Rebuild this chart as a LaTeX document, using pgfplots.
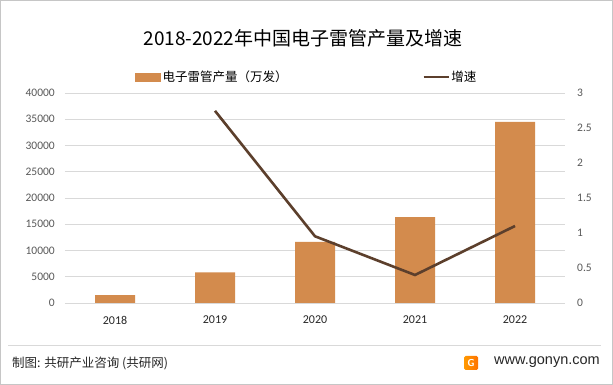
\documentclass[border=0pt]{standalone}
\usepackage{pgfplots}
\pgfplotsset{compat=1.18}
\usepackage{fontspec}
\setmainfont{Carlito}
\newfontfamily\cjk{Noto Sans CJK SC}
\newfontfamily\sans{Liberation Sans}
\definecolor{barc}{HTML}{D38B4D}
\definecolor{linec}{HTML}{5C3F2C}
\definecolor{gridc}{HTML}{D9D9D9}
\definecolor{tickc}{HTML}{595959}
\begin{document}
\begin{tikzpicture}[x=1pt,y=1pt]
\useasboundingbox (0,0) rectangle (613,385);
\fill[white] (0,0) rectangle (613,385);
\draw[gray!45, line width=0.8pt] (0.5,0.5) rectangle (612.5,384.5);
% title
\node[font=\cjk\fontsize{19}{22}\selectfont, text=black] at (303,347) {2018-2022年中国电子雷管产量及增速};
\begin{axis}[
  at={(65pt,82pt)}, anchor=south west,
  scale only axis, width=500pt, height=210pt,
  xmin=-0.5, xmax=4.5, ymin=0, ymax=40000,
  xtick={0,1,2,3,4}, xticklabels={2018,2019,2020,2021,2022},
  ytick={0,5000,...,40000},
  scaled y ticks=false,
  /pgf/number format/1000 sep={},
  /pgf/number format/assume math mode=true,
  axis line style={draw=none},
  major tick length=0pt,
  ymajorgrids, grid style={gridc, line width=0.8pt},
  yticklabel style={font=\fontsize{11.5}{13}\selectfont, text=tickc, inner sep=0pt, xshift=-10pt},
  xticklabel style={font=\fontsize{12}{13}\selectfont, text=black!85, inner sep=0pt, yshift=-13pt},
  legend style={at={(0.14,1.076)}, anchor=west, draw=none, fill=none, inner sep=0pt,
     font=\cjk\fontsize{12.5}{14}\selectfont, nodes={inner sep=1.5pt}},
  legend image code/.code={\fill[barc] (0pt,-4.5pt) rectangle (26pt,4.5pt);},
]
\addplot[ybar, bar width=40pt, fill=barc, draw=none] coordinates {
 (0,1520) (1,5850) (2,11620) (3,16380) (4,34480)};
\addlegendentry{电子雷管产量（万发）}
\end{axis}
\begin{axis}[
  at={(65pt,82pt)}, anchor=south west,
  scale only axis, width=500pt, height=210pt,
  xmin=-0.5, xmax=4.5, ymin=0, ymax=3,
  axis x line=none,
  axis y line*=right,
  axis line style={draw=none},
  ytick={0,0.5,...,3},
  yticklabels={0,0.5,1,1.5,2,2.5,3},
  major tick length=0pt,
  yticklabel style={font=\fontsize{11.5}{13}\selectfont, text=tickc, inner sep=0pt, xshift=12pt},
  legend style={at={(0.714,1.076)}, anchor=west, draw=none, fill=none, inner sep=0pt,
     font=\cjk\fontsize{12.5}{14}\selectfont, nodes={inner sep=1.5pt}},
  legend image code/.code={\draw[linec, line width=2.6pt] (0pt,0pt) -- (25pt,0pt);},
]
\addplot[linec, line width=2.6pt, mark=none] coordinates {
 (1,2.745) (2,0.953) (3,0.40) (4,1.10)};
\addlegendentry{增速}
\end{axis}
% footer
\draw[gridc, line width=0.8pt] (8,40) -- (601,40);
\node[anchor=west, font=\cjk\fontsize{12.5}{14}\selectfont, text=black!85, inner sep=0pt] at (12,22) {制图: 共研产业咨询 (共研网)};
\shade[left color=orange!80!yellow, right color=orange!90!red, rounded corners=1.5pt] (464,15) rectangle (478,29);
\node[font=\sffamily\bfseries\fontsize{10}{10}\selectfont, text=white, inner sep=0pt] at (471,22) {G};
\node[anchor=east, font=\sans\fontsize{14.5}{16}\selectfont, text=black!85, inner sep=0pt] at (600,23) {www.gonyn.com};
\end{tikzpicture}
\end{document}
